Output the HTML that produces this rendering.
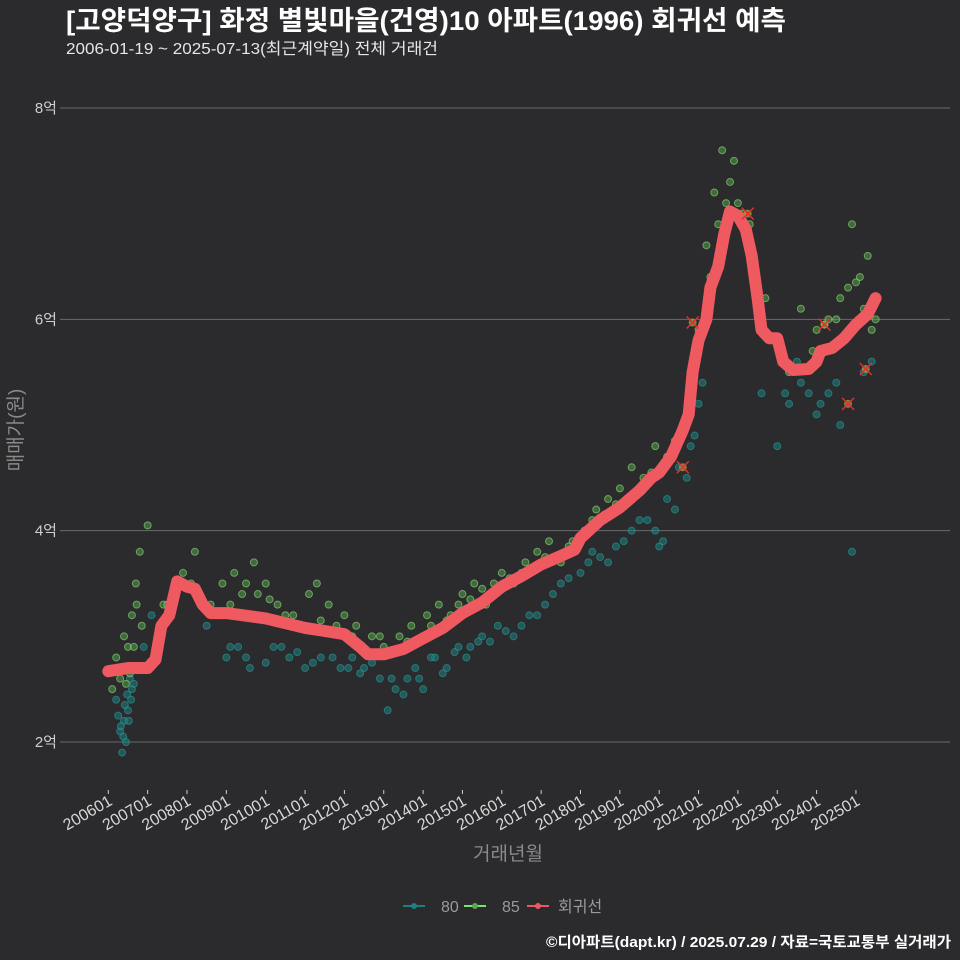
<!DOCTYPE html>
<html><head><meta charset="utf-8">
<style>
html,body{margin:0;padding:0;background:#2b2a2c;}
svg{display:block;font-family:"Liberation Sans","Noto Sans CJK KR",sans-serif;}
</style></head>
<body>
<svg id="chart" width="960" height="960" viewBox="0 0 960 960">
<rect x="0" y="0" width="960" height="960" fill="#2b2a2c"/>
<text x="66" y="30" fill="#ffffff" font-size="27" font-weight="bold" textLength="720" lengthAdjust="spacingAndGlyphs">[고양덕양구] 화정 별빛마을(건영)10 아파트(1996) 회귀선 예측</text>
<text x="66" y="54" fill="#e6e6e6" font-size="16" textLength="372" lengthAdjust="spacingAndGlyphs">2006-01-19 ~ 2025-07-13(최근계약일) 전체 거래건</text>
<g id="grid"></g>
<g id="xaxis"></g>
<g id="pts"></g>
<g id="reg"></g>
<g id="marks"></g>
<text x="0" y="0" transform="translate(22,430) rotate(-90)" text-anchor="middle" fill="#8a8a8a" font-size="19">매매가(원)</text>
<text x="508" y="860" text-anchor="middle" fill="#8a8a8a" font-size="19">거래년월</text>
<g>
<g><line x1="403" y1="906" x2="425" y2="906" stroke="#1e7f80" stroke-width="2"/><circle cx="414" cy="906" r="3" fill="#1e7f80"/><text x="441" y="912" fill="#9a9a9a" font-size="16">80</text></g>
<g><line x1="464" y1="906" x2="486" y2="906" stroke="#7ee07a" stroke-width="2"/><circle cx="475" cy="906" r="3" fill="#5aa84f"/><text x="502" y="912" fill="#9a9a9a" font-size="16">85</text></g>
<g><line x1="527" y1="906" x2="549" y2="906" stroke="#e85a60" stroke-width="2"/><circle cx="538" cy="906" r="3" fill="#e85a60"/><text x="558" y="912" fill="#9a9a9a" font-size="16">회귀선</text></g>
</g>
<text x="951" y="947" text-anchor="end" fill="#ffffff" font-size="15" font-weight="bold" textLength="405" lengthAdjust="spacingAndGlyphs">©디아파트(dapt.kr) / 2025.07.29 / 자료=국토교통부 실거래가</text>
</svg>
<script>
const yTicks=[2,4,6,8];
const yTickLabels=["2억","4억","6억","8억"];
const xTickYears=[2006,2007,2008,2009,2010,2011,2012,2013,2014,2015,2016,2017,2018,2019,2020,2021,2022,2023,2024,2025];
const xTickLabels=xTickYears.map(y=>y+"01");
const regT=[2006.0,2006.5,2007.0,2007.2,2007.35,2007.55,2007.75,2008.0,2008.2,2008.4,2008.6,2009.0,2010.0,2011.0,2011.5,2012.0,2012.4,2012.6,2013.0,2013.5,2014.0,2014.5,2015.0,2015.5,2016.0,2016.5,2017.0,2017.5,2017.85,2018.0,2018.5,2019.0,2019.5,2019.8,2020.0,2020.3,2020.6,2020.75,2020.85,2021.0,2021.2,2021.3,2021.5,2021.65,2021.8,2022.0,2022.2,2022.35,2022.5,2022.6,2022.8,2023.0,2023.15,2023.4,2023.8,2024.0,2024.1,2024.4,2024.7,2025.0,2025.3,2025.5];
const regV=[2.67,2.70,2.70,2.78,3.10,3.20,3.52,3.47,3.45,3.30,3.22,3.22,3.17,3.08,3.05,3.02,2.90,2.83,2.83,2.88,2.98,3.08,3.22,3.32,3.47,3.57,3.68,3.76,3.82,3.93,4.10,4.22,4.38,4.50,4.55,4.70,4.95,5.10,5.50,5.80,6.00,6.30,6.50,6.80,7.02,6.98,6.85,6.60,6.20,5.90,5.82,5.82,5.60,5.52,5.53,5.60,5.70,5.73,5.82,5.95,6.05,6.20];
const t80=[2006.2,2006.3,2006.35,2006.4,2006.45,2006.5,2006.55,2006.6,2006.9,2007.1,2008.5,2009.0,2009.3,2009.6,2010.2,2010.6,2011.0,2011.4,2011.9,2012.2,2012.5,2012.9,2013.1,2013.3,2013.6,2013.8,2014.0,2014.3,2014.6,2014.9,2015.2,2015.5,2015.9,2016.3,2016.7,2017.1,2017.5,2018.0,2018.3,2018.7,2019.1,2019.5,2019.9,2020.1,2020.4,2020.7,2020.9,2021.1,2022.6,2023.0,2023.3,2023.6,2024.0,2024.3,2024.6,2024.9,2025.2,2025.4,
2006.25,2006.32,2006.38,2006.42,2006.48,2006.52,2006.58,2006.65,2006.75,2009.1,2009.5,2010.0,2010.4,2010.8,2011.2,2011.7,2012.1,2012.4,2012.7,2013.2,2013.5,2013.9,2014.2,2014.5,2014.8,2015.1,2015.4,2015.7,2016.1,2016.5,2016.9,2017.3,2017.7,2018.2,2018.5,2018.9,2019.3,2019.7,2020.0,2020.2,2020.5,2020.8,2021.0,2023.2,2023.5,2023.8,2024.1,2024.5];
const v80=[2.4,2.1,1.9,2.2,2.0,2.3,2.6,2.5,2.9,3.2,3.1,2.8,2.9,2.7,2.9,2.8,2.7,2.8,2.7,2.8,2.7,2.6,2.3,2.5,2.6,2.7,2.5,2.8,2.7,2.9,2.9,3.0,3.1,3.0,3.2,3.3,3.5,3.6,3.8,3.7,3.9,4.1,4.0,3.9,4.2,4.5,4.9,5.4,5.3,4.8,5.2,5.4,5.1,5.3,5.0,3.8,5.5,5.6,
2.25,2.15,2.05,2.35,2.45,2.2,2.4,2.55,2.7,2.9,2.8,2.75,2.9,2.85,2.75,2.8,2.7,2.65,2.75,2.6,2.45,2.6,2.8,2.65,2.85,2.8,2.95,2.95,3.05,3.1,3.2,3.4,3.55,3.7,3.75,3.85,4.0,4.1,3.85,4.3,4.6,4.8,5.2,5.3,5.6,5.3,5.2,5.4];
const t85=[2006.1,2006.2,2006.3,2006.4,2006.5,2006.6,2006.7,2006.8,2007.0,2007.4,2007.9,2008.2,2008.6,2008.9,2009.2,2009.4,2009.7,2010.0,2010.3,2010.7,2011.1,2011.3,2011.6,2012.0,2012.3,2012.7,2013.0,2013.4,2013.7,2014.1,2014.4,2014.7,2015.0,2015.3,2015.6,2016.0,2016.3,2016.6,2016.9,2017.2,2017.5,2017.8,2018.1,2018.4,2018.7,2019.0,2019.3,2019.6,2019.9,2020.2,2020.5,2020.8,2021.0,2021.2,2021.4,2021.6,2021.8,2022.0,2022.3,2022.7,2023.0,2023.3,2023.6,2024.0,2024.3,2024.6,2024.9,2025.1,2025.3,2025.5,
2006.35,2006.45,2006.55,2006.65,2006.72,2006.85,2007.5,2008.1,2008.8,2009.1,2009.5,2009.8,2010.1,2010.5,2010.9,2011.4,2011.8,2012.2,2012.9,2013.2,2013.6,2013.9,2014.2,2014.6,2014.9,2015.2,2015.5,2015.8,2016.2,2016.5,2016.8,2017.1,2017.4,2017.7,2018.0,2018.3,2018.6,2018.9,2019.2,2019.5,2019.8,2020.1,2020.4,2020.7,2020.9,2021.3,2021.5,2021.7,2021.9,2022.1,2022.5,2023.9,2024.2,2024.5,2024.8,2025.0,2025.2,2025.4];
const v85=[2.5,2.8,2.6,3.0,2.9,3.2,3.5,3.8,4.05,3.3,3.6,3.8,3.3,3.5,3.6,3.4,3.7,3.5,3.3,3.2,3.4,3.5,3.3,3.2,3.1,3.0,2.9,3.0,3.1,3.2,3.3,3.2,3.4,3.5,3.3,3.6,3.5,3.7,3.8,3.9,3.7,3.9,4.0,4.2,4.3,4.4,4.6,4.5,4.8,4.7,4.9,5.2,5.9,6.7,7.2,7.6,7.3,7.1,6.9,6.2,5.8,5.5,6.1,5.9,6.0,6.2,6.9,6.4,6.6,6.0,
2.7,2.55,2.65,2.9,3.3,3.1,3.3,3.5,3.2,3.3,3.5,3.4,3.35,3.2,3.1,3.15,3.1,3.0,3.0,2.85,2.95,2.95,3.1,3.15,3.3,3.35,3.45,3.5,3.55,3.6,3.65,3.75,3.75,3.85,3.95,4.1,4.15,4.25,4.3,4.4,4.55,4.6,4.85,5.0,5.6,6.4,6.9,7.1,7.5,7.0,6.2,5.7,5.95,6.0,6.3,6.35,6.1,5.9];
const predT=[2020.6,2020.85,2022.25,2024.2,2024.8,2025.25];
const predV=[4.6,5.97,7.0,5.95,5.2,5.53];
const NS="http://www.w3.org/2000/svg";
function xs(t){return 108.3+(t-2006)*39.35;}
function ys(v){return 742-(v-2)*105.67;}
function mk(tag,attrs,parent){const e=document.createElementNS(NS,tag);for(const k in attrs)e.setAttribute(k,attrs[k]);parent.appendChild(e);return e;}
const grid=document.getElementById('grid');
yTicks.forEach((v,i)=>{
  const l=mk('line',{x1:60,x2:950,y1:ys(v),y2:ys(v),stroke:'#6a6a6a','stroke-width':1},grid);
  
  
  const t=mk('text',{x:57,y:ys(v)+5,'text-anchor':'end',fill:'#cfcfcf','font-size':15},grid);
  t.textContent=yTickLabels[i];
  
  
});
const xa=document.getElementById('xaxis');
xTickYears.forEach((y,i)=>{
  const x=xs(y);
  const tk=mk('line',{x1:x,x2:x,y1:790,y2:794,stroke:'#cfcfcf','stroke-width':1},xa);
  
  
  const t=mk('text',{x:x+5,y:804,'text-anchor':'end',fill:'#d8d8d8','font-size':16,transform:`rotate(-30 ${x+5} 804)`},xa);
  t.textContent=xTickLabels[i];
  
  
});
const pts=document.getElementById('pts');
t80.forEach((t,i)=>{
  const c=mk('circle',{cx:xs(t),cy:ys(v80[i]),r:3.5,fill:'#1e7f80','fill-opacity':0.55,stroke:'#2a9a9a','stroke-opacity':0.6},pts);
  
  
});
t85.forEach((t,i)=>{
  const c=mk('circle',{cx:xs(t),cy:ys(v85[i]),r:3.5,fill:'#5aa84f','fill-opacity':0.5,stroke:'#8ee07a','stroke-opacity':0.6},pts);
  
  
});
const reg=document.getElementById('reg');
const d=regT.map((t,i)=>(i?'L':'M')+xs(t).toFixed(1)+','+ys(regV[i]).toFixed(1)).join(' ');
const p=mk('path',{d:d,fill:'none',stroke:'#ee5a60','stroke-width':12,'stroke-linecap':'round','stroke-linejoin':'round'},reg);


const marks=document.getElementById('marks');
predT.forEach((t,i)=>{
  const x=xs(t),y=ys(predV[i]);
  const g=mk('g',{},marks);
  
  
  mk('circle',{cx:x,cy:y,r:4,fill:'#b0a040','fill-opacity':0.7},g);
  mk('path',{d:`M${x-6},${y-6}L${x+6},${y+6}M${x-6},${y+6}L${x+6},${y-6}`,stroke:'#e03030','stroke-width':1.5},g);
});
</script>
</body></html>
